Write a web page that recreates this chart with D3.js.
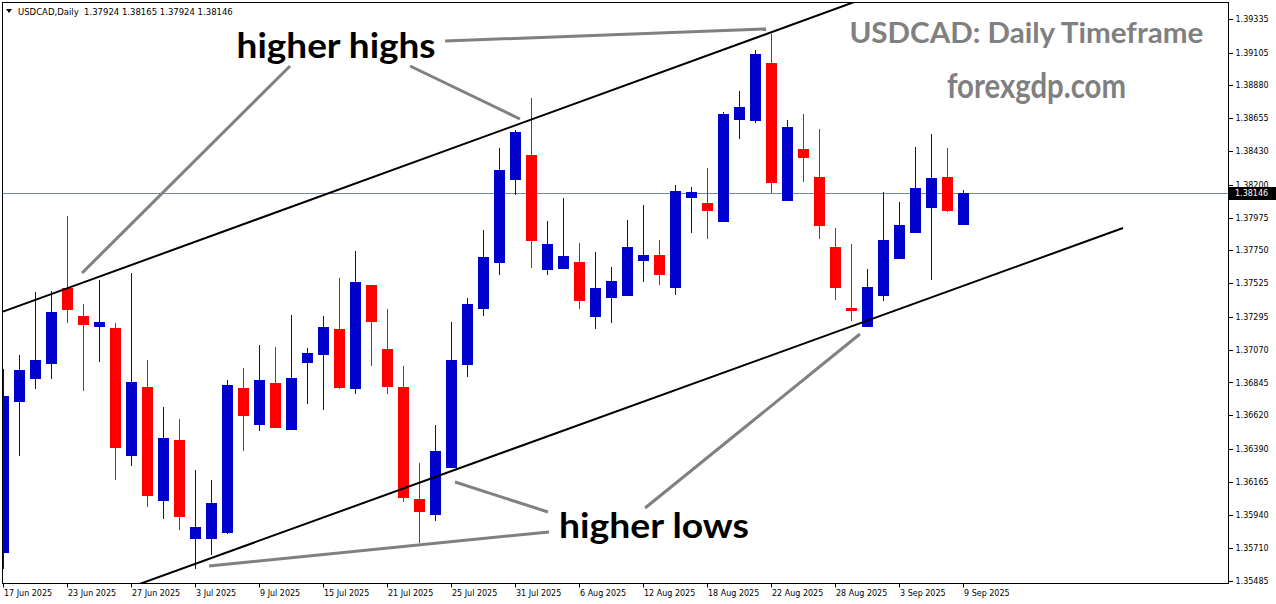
<!DOCTYPE html>
<html>
<head>
<meta charset="utf-8">
<script src="https://cdn.jsdelivr.net/npm/d3@7"></script>
<style>
html,body{margin:0;padding:0;background:#fff;}
svg{display:block;}
</style>
</head>
<body>
<script>
// ---- data ----
const symbol = "USDCAD,Daily";
const headerValues = ["1.37924", "1.38165", "1.37924", "1.38146"];
const lastPrice = 1.38146;

const open = [
1.35677, 1.36713, 1.36869, 1.36974, 1.37490, 1.37301, 1.37225, 1.37220, 1.36342, 1.36814,
1.36033, 1.36451, 1.35773, 1.35773, 1.35814, 1.36807, 1.36554, 1.36842, 1.36520, 1.36979,
1.37033, 1.37212, 1.36801, 1.37513, 1.37075, 1.36814, 1.36049, 1.35940, 1.36261, 1.36967,
1.37351, 1.37666, 1.38234, 1.38403, 1.37618, 1.37625, 1.37670, 1.37296, 1.37426, 1.37440,
1.37679, 1.37718, 1.37494, 1.38111, 1.38075, 1.37947, 1.38645, 1.38638, 1.39034, 1.38090,
1.38445, 1.38253, 1.37773, 1.37355, 1.37227, 1.37440, 1.37693, 1.37871, 1.38042, 1.38253,
1.37924];
const high = [
1.36938, 1.37033, 1.37465, 1.37472, 1.37988, 1.37383, 1.37549, 1.37253, 1.37595, 1.36999,
1.36677, 1.36595, 1.36246, 1.36177, 1.36862, 1.36944, 1.37104, 1.37088, 1.37307, 1.37081,
1.37301, 1.37561, 1.37746, 1.37515, 1.37349, 1.36958, 1.36296, 1.36556, 1.37259, 1.37424,
1.37890, 1.38451, 1.38575, 1.38794, 1.37951, 1.38109, 1.37801, 1.37739, 1.37636, 1.37958,
1.38061, 1.37821, 1.38198, 1.38186, 1.38316, 1.38698, 1.38842, 1.39123, 1.39232, 1.38643,
1.38684, 1.38582, 1.37903, 1.37796, 1.37625, 1.38152, 1.38081, 1.38460, 1.38547, 1.38453,
1.38165];
const low = [
1.35568, 1.36342, 1.36801, 1.36869, 1.37251, 1.36787, 1.36985, 1.36177, 1.36273, 1.35992,
1.35910, 1.35835, 1.35568, 1.35663, 1.35810, 1.36376, 1.36513, 1.36530, 1.36517, 1.36698,
1.36657, 1.36800, 1.36766, 1.36958, 1.36766, 1.36029, 1.35748, 1.35898, 1.36258, 1.36885,
1.37303, 1.37584, 1.38131, 1.37631, 1.37584, 1.37622, 1.37351, 1.37214, 1.37255, 1.37437,
1.37536, 1.37515, 1.37447, 1.37871, 1.37830, 1.37944, 1.38515, 1.38625, 1.38145, 1.38087,
1.38221, 1.37830, 1.37412, 1.37268, 1.37224, 1.37405, 1.37690, 1.37868, 1.37549, 1.38015,
1.37924];
const close = [
1.36753, 1.36931, 1.36999, 1.37328, 1.37342, 1.37239, 1.37259, 1.36398, 1.36848, 1.36068,
1.36465, 1.35924, 1.35855, 1.36020, 1.36828, 1.36616, 1.36862, 1.36533, 1.36876, 1.37047,
1.37225, 1.36807, 1.37533, 1.37259, 1.36814, 1.36056, 1.35960, 1.36378, 1.36999, 1.37383,
1.37705, 1.38301, 1.38561, 1.37816, 1.37794, 1.37712, 1.37405, 1.37492, 1.37540, 1.37773,
1.37718, 1.37584, 1.38157, 1.38150, 1.38022, 1.38684, 1.38732, 1.39095, 1.38214, 1.38595,
1.38385, 1.37919, 1.37494, 1.37337, 1.37499, 1.37821, 1.37924, 1.38177, 1.38246, 1.38022,
1.38146];

const priceTicks = [1.39335, 1.39105, 1.38880, 1.38655, 1.38430, 1.38200, 1.37975, 1.37750, 1.37525,
  1.37295, 1.37070, 1.36845, 1.36620, 1.36390, 1.36165, 1.35940, 1.35710, 1.35485];
const dateTickIndex = [0, 4, 8, 12, 16, 20, 24, 28, 32, 36, 40, 44, 48, 52, 56, 60];
const dateTickLabels = ["17 Jun 2025", "23 Jun 2025", "27 Jun 2025", "3 Jul 2025", "9 Jul 2025",
  "15 Jul 2025", "21 Jul 2025", "25 Jul 2025", "31 Jul 2025", "6 Aug 2025", "12 Aug 2025",
  "18 Aug 2025", "22 Aug 2025", "28 Aug 2025", "3 Sep 2025", "9 Sep 2025"];

// channel trend lines: [bar index, price]
const upperChannel = [[0, 1.37330], [70, 1.40121]];
const lowerChannel = [[0, 1.35126], [70, 1.37903]];
// grey annotation pointers: [bar index, price]
const pointers = [
  [[4.94, 1.37595], [17.94, 1.39013]],
  [[25.44, 1.39013], [32.31, 1.38650]],
  [[27.63, 1.39184], [47.69, 1.39267]],
  [[28.25, 1.36163], [34.06, 1.35958]],
  [[12.88, 1.35588], [34.13, 1.35821]],
  [[40.13, 1.35985], [53.56, 1.37177]]
];
// annotation texts: [bar index, price, text]
const labels = [
  {i: 14.6, p: 1.39068, text: "higher highs", len: 199, size: 35, color: "#000"},
  {i: 34.75, p: 1.35779, text: "higher lows", len: 190, size: 35, color: "#000"},
  {i: 52.9, p: 1.39169, text: "USDCAD: Daily Timeframe", len: 354, size: 28, color: "#808080"},
  {i: 59.0, p: 1.38794, text: "forexgdp.com", len: 179, size: 35, color: "#808080"}
];

// ---- layout ----
const W = 1276, H = 604;
const plot = {left: 2.5, top: 2.5, right: 1228.5, bottom: 583.5};
const bull = "#0000CD", bear = "#FF0000";

const svg = d3.select("body").append("svg").attr("width", W).attr("height", H)
  .style("font-family", "'DejaVu Sans', sans-serif");
svg.append("rect").attr("width", W).attr("height", H).attr("fill", "#fff");

const x = d3.scaleLinear().domain([0, 60]).range([3, 963]);
const y = d3.scaleLinear().domain([1.35485, 1.39335]).range([581, 19]);

svg.append("clipPath").attr("id", "clip").append("rect")
  .attr("x", plot.left).attr("y", plot.top)
  .attr("width", plot.right - plot.left).attr("height", plot.bottom - plot.top);

const g = svg.append("g").attr("clip-path", "url(#clip)");

// last price line
g.append("line")
  .attr("x1", plot.left).attr("x2", plot.right)
  .attr("y1", Math.round(y(lastPrice)) + 0.5).attr("y2", Math.round(y(lastPrice)) + 0.5)
  .attr("stroke", "#778899").attr("stroke-width", 1);

// candles
const candles = open.map((o, i) => ({i, o, h: high[i], l: low[i], c: close[i]}));
const cg = g.append("g");
cg.selectAll("rect.wick").data(candles).join("rect").attr("class", "wick")
  .attr("x", d => Math.round(x(d.i)))
  .attr("width", 1)
  .attr("y", d => Math.round(y(d.h)))
  .attr("height", d => Math.max(1, Math.round(y(d.l)) - Math.round(y(d.h))))
  .attr("fill", d => d.c >= d.o ? bull : bear);
cg.selectAll("rect.body").data(candles).join("rect").attr("class", "body")
  .attr("x", d => Math.round(x(d.i)) - 5)
  .attr("width", 11)
  .attr("y", d => Math.round(y(Math.max(d.o, d.c))))
  .attr("height", d => Math.max(2, Math.round(y(Math.min(d.o, d.c))) - Math.round(y(Math.max(d.o, d.c)))))
  .attr("fill", d => d.c >= d.o ? bull : bear);

// channel lines
const lineGen = d3.line().x(d => x(d[0])).y(d => y(d[1]));
[upperChannel, lowerChannel].forEach(seg => {
  g.append("path").attr("d", lineGen(seg)).attr("fill", "none")
    .attr("stroke", "#000").attr("stroke-width", 2);
});

// pointers
pointers.forEach(seg => {
  g.append("path").attr("d", lineGen(seg)).attr("fill", "none")
    .attr("stroke", "#808080").attr("stroke-width", 3);
});

// labels
labels.forEach(l => {
  g.append("text")
    .attr("x", x(l.i)).attr("y", y(l.p))
    .attr("font-family", "Lato, 'Open Sans', sans-serif")
    .attr("font-weight", 700)
    .attr("font-size", l.size)
    .attr("fill", l.color)
    .attr("textLength", l.len)
    .attr("lengthAdjust", "spacingAndGlyphs")
    .text(l.text);
});

// frame
svg.append("rect")
  .attr("x", plot.left).attr("y", plot.top)
  .attr("width", plot.right - plot.left).attr("height", plot.bottom - plot.top)
  .attr("fill", "none").attr("stroke", "#000").attr("stroke-width", 1);

// right price axis
const yAxis = d3.axisRight(y).tickValues(priceTicks).tickFormat(d3.format(".5f"))
  .tickSize(4).tickPadding(3);
const ya = svg.append("g").attr("transform", `translate(${plot.right},0)`).call(yAxis);
ya.select(".domain").remove();
ya.selectAll("line").attr("stroke", "#000").attr("shape-rendering", "crispEdges");
ya.selectAll("text").attr("font-family", "'DejaVu Sans', sans-serif").attr("font-size", 8).attr("fill", "#000");

// last price box
const ly = Math.round(y(lastPrice));
svg.append("rect").attr("x", 1229).attr("y", ly - 6).attr("width", 47).attr("height", 13).attr("fill", "#000");
svg.append("text").attr("x", 1235).attr("y", ly + 0.5).attr("dy", "0.32em")
  .attr("font-size", 8).attr("fill", "#fff").text(d3.format(".5f")(lastPrice));

// bottom time axis
const xa = svg.append("g");
xa.selectAll("line").data(dateTickIndex).join("line")
  .attr("x1", d => Math.round(x(d)) + 0.5).attr("x2", d => Math.round(x(d)) + 0.5)
  .attr("y1", plot.bottom).attr("y2", plot.bottom + 4)
  .attr("stroke", "#000");
xa.selectAll("text").data(dateTickIndex).join("text")
  .attr("x", d => Math.round(x(d)) + 1).attr("y", 596)
  .attr("font-size", 8).attr("fill", "#000")
  .text((d, k) => dateTickLabels[k]);

// header
svg.append("path").attr("d", "M6,9 L12,9 L9,13 Z").attr("fill", "#000");
svg.append("text").attr("x", 18).attr("y", 15).attr("font-size", 8.5).attr("fill", "#000")
  .attr("xml:space", "preserve")
  .text(symbol + "  " + headerValues.join(" "));
</script>
</body>
</html>
